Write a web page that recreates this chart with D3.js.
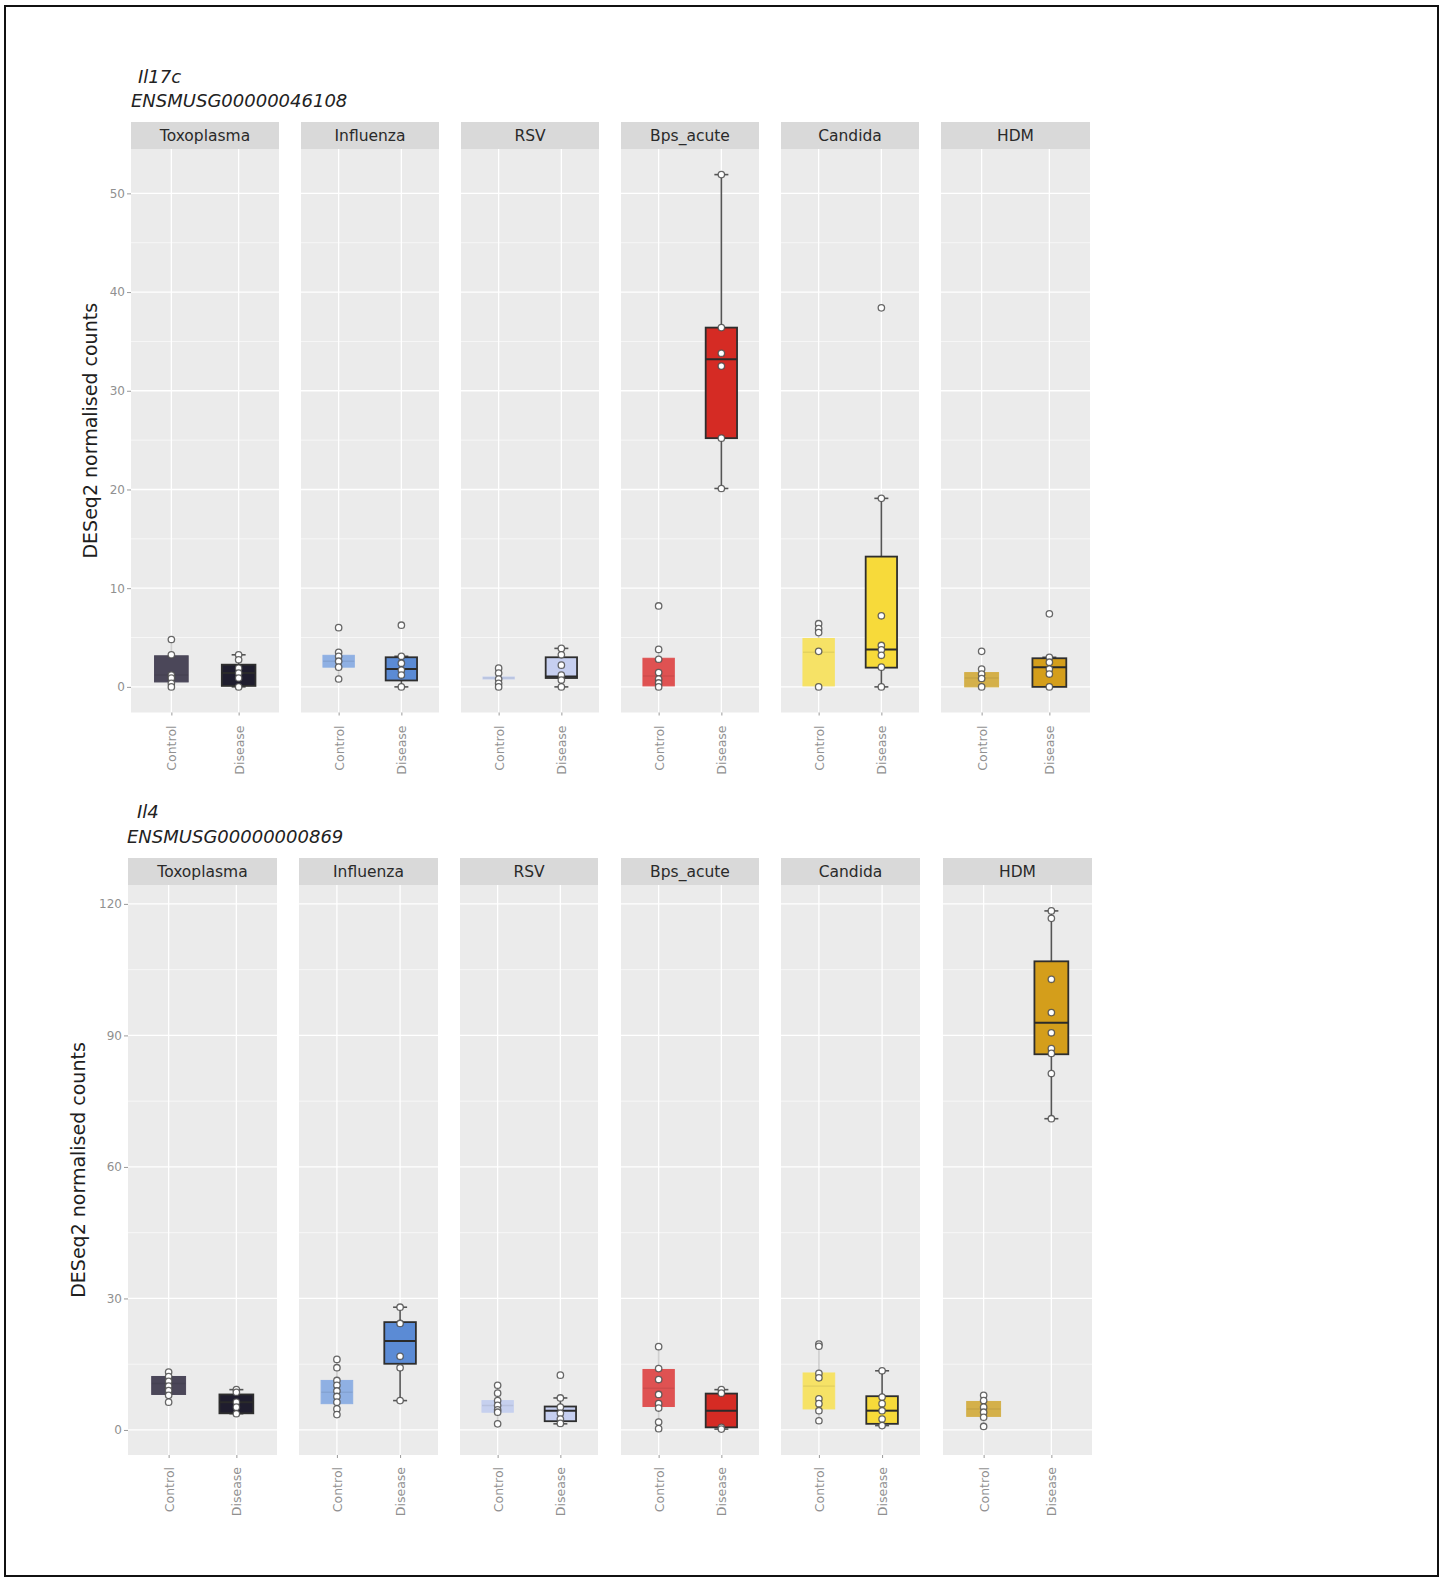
<!DOCTYPE html>
<html>
<head>
<meta charset="utf-8">
<script src="https://cdn.jsdelivr.net/npm/d3@7"></script>
<style>
  html, body { margin: 0; padding: 0; background: #ffffff; }
  svg { display: block; }
  text { font-family: "DejaVu Sans", Verdana, sans-serif; }
</style>
</head>
<body>
<script>
// Infection models shown as facets, each with a control and a disease group
const infections = ["Toxoplasma", "Influenza", "RSV", "Bps_acute", "Candida", "HDM"];
const conditions = ["Control", "Disease"];

const geneSymbols = ["Il17c", "Il4"];
const geneIds = ["ENSMUSG00000046108", "ENSMUSG00000000869"];

const il17cTicks = [0, 10, 20, 30, 40, 50];
const il4Ticks = [0, 30, 60, 90, 120];

// Box summaries per facet/condition: [lower whisker, Q1, median, Q3, upper whisker]
// order: Toxoplasma C/D, Influenza C/D, RSV C/D, Bps_acute C/D, Candida C/D, HDM C/D
const il17cBoxes = [
  [0, 0.5, 1.2, 3.15, 4.8],   [0, 0.1, 1.4, 2.25, 3.25],
  [0.8, 2.0, 2.6, 3.2, 3.5],  [0, 0.65, 1.8, 3.0, 3.1],
  [0, 0.8, 0.9, 1.0, 1.9],    [0, 0.9, 1.05, 3.0, 3.9],
  [0, 0.1, 1.1, 2.9, 3.8],    [20.1, 25.2, 33.2, 36.4, 51.9],
  [0, 0.1, 3.5, 4.9, 6.4],    [0, 1.95, 3.8, 13.2, 19.1],
  [0, 0.0, 0.9, 1.45, 1.8],   [0, 0.0, 2.0, 2.9, 3.0]
];
const il17cSamples = [
  [4.8, 3.25, 1.2, 0.9, 0.37, 0],       [3.25, 2.75, 1.9, 1.4, 0.9, 0],
  [6.0, 3.5, 3.1, 2.6, 2.0, 0.8],       [6.25, 3.1, 2.4, 1.7, 1.2, 0],
  [1.9, 1.4, 0.8, 0.37, 0],             [3.9, 3.25, 2.2, 1.2, 0.7, 0],
  [8.2, 3.8, 2.8, 1.45, 0.8, 0.4, 0],   [51.9, 36.4, 33.8, 32.5, 25.2, 20.1],
  [6.4, 5.9, 5.5, 3.6, 0],              [38.4, 19.1, 7.2, 4.2, 3.75, 3.2, 2.0, 0],
  [3.6, 1.8, 1.3, 0.85, 0],             [7.4, 3.0, 2.5, 1.8, 1.3, 0]
];

const il4Boxes = [
  [6.35, 8.1, 10.6, 12.2, 13.2], [3.7, 3.8, 6.3, 8.1, 9.2],
  [3.5, 6.0, 8.6, 11.3, 16.1],   [6.7, 15.1, 20.3, 24.6, 28.0],
  [1.4, 4.05, 5.6, 6.7, 10.2],   [1.4, 2.0, 4.4, 5.35, 7.3],
  [0.3, 5.35, 9.5, 13.8, 19.0],  [0.2, 0.6, 4.4, 8.3, 9.2],
  [2.1, 4.8, 10.0, 13.0, 19.6],  [1.0, 1.4, 4.4, 7.7, 13.5],
  [0.8, 3.1, 4.8, 6.5, 7.9],     [71.0, 85.7, 92.9, 106.9, 118.4]
];
const il4Samples = [
  [13.2, 12.2, 11.1, 10.0, 9.0, 7.9, 6.35],            [9.2, 8.6, 6.35, 5.2, 3.7],
  [16.1, 14.2, 11.3, 10.2, 8.9, 7.65, 6.35, 4.8, 3.5], [28.0, 24.3, 16.8, 14.2, 6.7],
  [10.2, 8.4, 6.7, 5.6, 4.6, 4.05, 1.4],               [12.5, 7.3, 5.2, 3.8, 2.5, 1.5],
  [19.0, 14.0, 11.5, 8.1, 6.0, 5.0, 1.8, 0.3],         [9.2, 8.4, 0.6, 0.2],
  [19.6, 19.1, 12.9, 11.9, 7.1, 6.0, 4.4, 2.1],        [13.5, 7.5, 6.0, 4.4, 2.5, 1.0],
  [7.9, 6.7, 5.2, 4.05, 2.9, 0.8],                     [118.4, 116.7, 102.8, 95.2, 90.6, 87.0, 85.9, 81.3, 71.0]
];

// Fill colours per infection: [control, disease]
const fills = [
  ["#4b4759", "#1f1d2e"],
  ["#8fb0e3", "#5b8bd5"],
  ["#c6d0ee", "#c6cff0"],
  ["#df5252", "#d52b24"],
  ["#f6e266", "#f7da3a"],
  ["#d4b04a", "#d49e1b"]
];

// ---- page layout ----
const W = 1448, H = 1578;
const svg = d3.select("body").append("svg").attr("width", W).attr("height", H);
svg.append("rect").attr("width", W).attr("height", H).attr("fill", "#ffffff");
svg.append("rect").attr("x", 5).attr("y", 6).attr("width", 1433).attr("height", 1570)
  .attr("fill", "none").attr("stroke", "#111").attr("stroke-width", 2);

const rows = [
  {
    symbol: geneSymbols[0], id: geneIds[0], boxes: il17cBoxes, samples: il17cSamples, ticks: il17cTicks,
    symbolX: 138, idX: 131, symbolY: 83, idY: 107,
    stripTop: 122, panelTop: 149, panelBottom: 712.5,
    lefts: [131, 301, 461, 621, 781, 941], rights: [279, 439, 599, 759, 919, 1090],
    yTitleX: 90.5, labelGap: 13
  },
  {
    symbol: geneSymbols[1], id: geneIds[1], boxes: il4Boxes, samples: il4Samples, ticks: il4Ticks,
    symbolX: 137, idX: 127, symbolY: 818, idY: 843,
    stripTop: 858, panelTop: 885, panelBottom: 1455,
    lefts: [128, 299, 460, 621, 781, 943], rights: [277, 438, 598, 759, 920, 1092],
    yTitleX: 78.5, labelGap: 12
  }
];

rows.forEach(row => {
  const g = svg.append("g");

  // data range expanded by 5% on each side
  const allVals = row.boxes.flat().concat(row.samples.flat());
  const lo = d3.min(allVals), hi = d3.max(allVals);
  const pad = (hi - lo) * 0.05;
  const y = d3.scaleLinear().domain([lo - pad, hi + pad]).range([row.panelBottom, row.panelTop]);

  const step = row.ticks[1] - row.ticks[0];
  const minor = d3.range(row.ticks[0] + step / 2, hi + pad, step);

  // gene title
  g.append("text").attr("x", row.symbolX).attr("y", row.symbolY)
    .attr("font-size", 18).attr("font-style", "italic").attr("fill", "#222").text(row.symbol);
  g.append("text").attr("x", row.idX).attr("y", row.idY)
    .attr("font-size", 18).attr("font-style", "italic").attr("fill", "#222").text(row.id);

  // y axis title
  const midY = (row.panelTop + row.panelBottom) / 2;
  g.append("text")
    .attr("transform", `translate(${row.yTitleX},${midY}) rotate(-90)`)
    .attr("text-anchor", "middle").attr("dy", "0.35em")
    .attr("font-size", 19).attr("fill", "#1e1e1e")
    .text("DESeq2 normalised counts");

  infections.forEach((inf, fi) => {
    const x0 = row.lefts[fi], x1 = row.rights[fi];
    const x = d3.scalePoint().domain(conditions).range([x0, x1]).padding(0.6);
    const boxW = x.step() * 0.5;
    const p = g.append("g");

    // panel background + grid
    p.append("rect").attr("x", x0).attr("y", row.panelTop)
      .attr("width", x1 - x0).attr("height", row.panelBottom - row.panelTop).attr("fill", "#ebebeb");
    p.selectAll(".minor").data(minor).join("line")
      .attr("x1", x0).attr("x2", x1).attr("y1", d => y(d)).attr("y2", d => y(d))
      .attr("stroke", "#ffffff").attr("stroke-width", 0.6);
    p.selectAll(".major").data(row.ticks).join("line")
      .attr("x1", x0).attr("x2", x1).attr("y1", d => y(d)).attr("y2", d => y(d))
      .attr("stroke", "#ffffff").attr("stroke-width", 1.3);
    p.selectAll(".vgrid").data(conditions).join("line")
      .attr("x1", d => x(d)).attr("x2", d => x(d)).attr("y1", row.panelTop).attr("y2", row.panelBottom)
      .attr("stroke", "#ffffff").attr("stroke-width", 1.3);

    // strip
    p.append("rect").attr("x", x0).attr("y", row.stripTop)
      .attr("width", x1 - x0).attr("height", row.panelTop - row.stripTop).attr("fill", "#d9d9d9");
    p.append("text").attr("x", (x0 + x1) / 2).attr("y", (row.stripTop + row.panelTop) / 2)
      .attr("dy", "0.36em").attr("text-anchor", "middle")
      .attr("font-size", 15.5).attr("fill", "#2a2a2a").text(inf);

    // boxes
    conditions.forEach((cond, ci) => {
      const idx = fi * 2 + ci;
      const [wl, q1, med, q3, wh] = row.boxes[idx];
      const cx = x(cond);
      const isDisease = ci === 1;
      const fill = fills[fi][ci];

      p.append("line").attr("x1", cx).attr("x2", cx).attr("y1", y(wl)).attr("y2", y(q1))
        .attr("stroke", isDisease ? "#555" : "#8a8a8a").attr("stroke-opacity", isDisease ? 1 : 0.4)
        .attr("stroke-width", 1.6);
      p.append("line").attr("x1", cx).attr("x2", cx).attr("y1", y(q3)).attr("y2", y(wh))
        .attr("stroke", isDisease ? "#555" : "#8a8a8a").attr("stroke-opacity", isDisease ? 1 : 0.4)
        .attr("stroke-width", 1.6);

      if (isDisease) {
        [wl, wh].forEach(v => {
          if (v !== q1 && v !== q3) {
            p.append("line").attr("x1", cx - 7).attr("x2", cx + 7).attr("y1", y(v)).attr("y2", y(v))
              .attr("stroke", "#555").attr("stroke-width", 1.6);
          }
        });
      }

      p.append("rect")
        .attr("x", cx - boxW / 2).attr("width", boxW)
        .attr("y", y(q3)).attr("height", Math.max(1.5, y(q1) - y(q3)))
        .attr("fill", fill)
        .attr("stroke", isDisease ? "#2e2e2e" : fill)
        .attr("stroke-width", isDisease ? 1.8 : 1);

      p.append("line").attr("x1", cx - boxW / 2).attr("x2", cx + boxW / 2)
        .attr("y1", y(med)).attr("y2", y(med))
        .attr("stroke", isDisease ? "#2a2a2a" : "#000").attr("stroke-opacity", isDisease ? 1 : 0.07)
        .attr("stroke-width", isDisease ? 2 : 1.5);

      // individual samples
      p.selectAll(null).data(row.samples[idx]).join("circle")
        .attr("cx", cx).attr("cy", d => y(d)).attr("r", 3.2)
        .attr("fill", "#ffffff").attr("stroke", "#4d4d4d").attr("stroke-opacity", 0.85)
        .attr("stroke-width", 1.3);
    });

    // x axis with rotated condition labels
    const xAxis = p.append("g").attr("transform", `translate(0,${row.panelBottom})`)
      .call(d3.axisBottom(x).tickSize(3).tickPadding(row.labelGap - 3));
    xAxis.select(".domain").remove();
    xAxis.selectAll(".tick line").attr("stroke", "#9a9a9a");
    xAxis.selectAll(".tick text")
      .attr("transform", "rotate(-90)")
      .attr("text-anchor", "end")
      .attr("x", -row.labelGap).attr("y", 0).attr("dy", "0.35em")
      .attr("font-size", 12.5).attr("fill", "#909090")
      .style("font-family", "DejaVu Sans, sans-serif");

    // y axis on the first facet only
    if (fi === 0) {
      const yAxis = p.append("g").attr("transform", `translate(${x0},0)`)
        .call(d3.axisLeft(y).tickValues(row.ticks).tickSize(4).tickPadding(2));
      yAxis.select(".domain").remove();
      yAxis.selectAll(".tick line").attr("stroke", "#9a9a9a");
      yAxis.selectAll(".tick text").attr("font-size", 12).attr("fill", "#909090")
        .style("font-family", "DejaVu Sans, sans-serif");
    }
  });
});
</script>
</body>
</html>
